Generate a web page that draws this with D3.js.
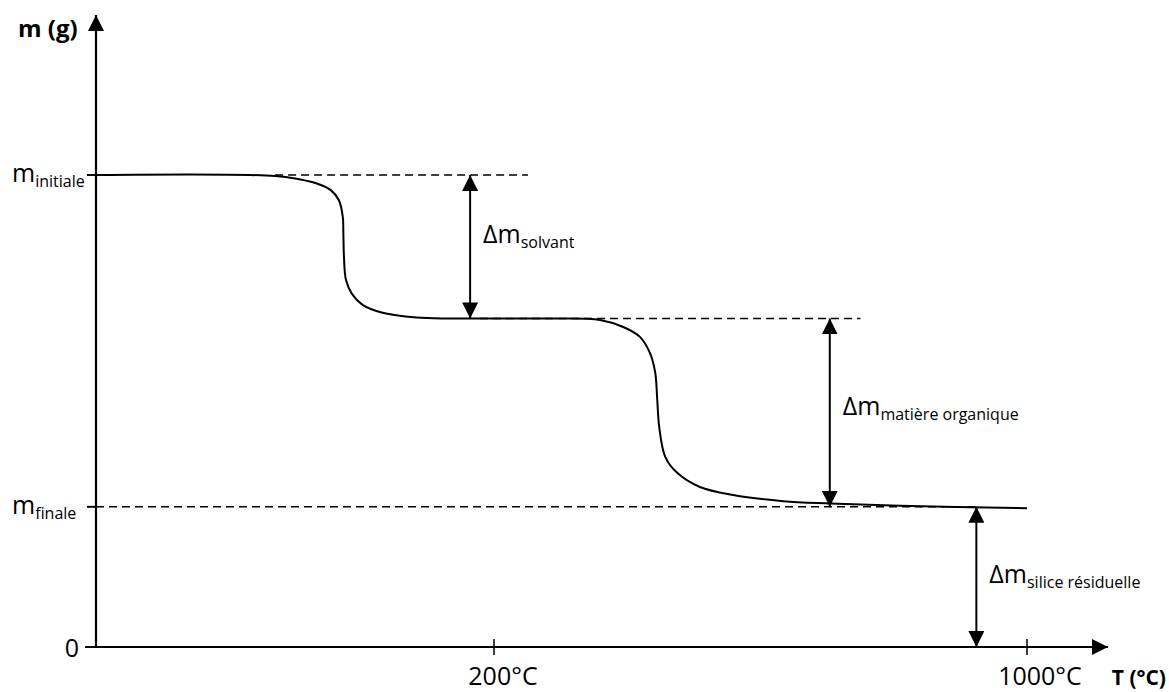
<!DOCTYPE html>
<html>
<head>
<meta charset="utf-8">
<script src="https://cdn.jsdelivr.net/npm/d3@7"></script>
<style>
  body { margin: 0; background: #fff; }
  svg { display: block; font-family: "Open Sans", "DejaVu Sans", sans-serif; }
</style>
</head>
<body>
<div id="chart"></div>
<script>
// 1. DATA (schematic thermogram)
const tempBreaks = [0, 200, 1000]          // °C, axis is broken after 200°C
const xTicks = [200, 1000]
const xTickLabels = ["200°C", "1000°C"]

const mInitiale = 100
const mPlateau = 69.6
const mFinale = 29.7

// curve: temperature (°C) and mass (arbitrary)
const curveT = [0, 90, 102, 111, 118, 122, 124, 124.3, 124.6, 125.6, 128.5, 134, 144, 161, 178, 230, 284,
    359, 394, 419, 434, 442, 445, 448, 457, 475, 509, 559, 634, 704, 809, 1000]
const curveM = [100, 99.8, 99.1, 98.2, 96.8, 94.7, 91.2, 87.7, 82.7, 77.8, 74.9, 72.5, 70.8, 69.8, 69.6, 69.6, 69.6,
    69.3, 67.8, 65.7, 62.3, 58.1, 52.4, 46.6, 40.3, 36.9, 33.9, 32.2, 30.9, 30.4, 29.9, 29.4]

const yTicks = [0, mFinale, mInitiale]
const yTickLabels = [["0", ""], ["m", "finale"], ["m", "initiale"]]

const guides = [
    { m: mInitiale, from: 90, to: 251 },
    { m: mPlateau, from: 193, to: 750 },
    { m: mFinale, from: 0, to: 922 },
]

const deltas = [
    { t: 188, top: mInitiale, bottom: mPlateau, sub: "solvant", dy: -4 },
    { t: 704, top: mPlateau, bottom: mFinale, sub: "matière organique", dy: 2 },
    { t: 924, top: mFinale, bottom: 0, sub: "silice résiduelle", dy: 6 },
]

// 2. DIMENSIONS
const dimensions = {
    width: 1169,
    height: 692,
    margin: { top: 175, left: 96, bottom: 45 },
}

// 3. CANVAS
const svg = d3.select("#chart")
    .append("svg")
    .attr("width", dimensions.width)
    .attr("height", dimensions.height)

const defs = svg.append("defs")
defs.append("marker")
    .attr("id", "head")
    .attr("viewBox", "0 0 16 16")
    .attr("refX", 16)
    .attr("refY", 8)
    .attr("markerWidth", 16)
    .attr("markerHeight", 16)
    .attr("markerUnits", "userSpaceOnUse")
    .attr("orient", "auto-start-reverse")
    .append("path")
    .attr("d", "M0,0 L16,8 L0,16 Z")
    .attr("fill", "#000")

// 4. SCALES
const xScale = d3.scaleLinear()
    .domain(tempBreaks)
    .range([dimensions.margin.left, 494, 1027])

const yScale = d3.scaleLinear()
    .domain([0, mInitiale])
    .range([dimensions.height - dimensions.margin.bottom, dimensions.margin.top])

// 5. GUIDES AND CURVE
svg.append("g")
    .selectAll("line")
    .data(guides)
    .join("line")
    .attr("x1", d => xScale(d.from))
    .attr("x2", d => xScale(d.to))
    .attr("y1", d => yScale(d.m))
    .attr("y2", d => yScale(d.m))
    .attr("stroke", "#000")
    .attr("stroke-width", 1.6)
    .attr("stroke-dasharray", "8 5")

const curveData = curveT.map((t, i) => [t, curveM[i]])
const lineGen = d3.line()
    .x(d => xScale(d[0]))
    .y(d => yScale(d[1]))
    .curve(d3.curveCatmullRom.alpha(0.5))

svg.append("path")
    .datum(curveData)
    .attr("d", lineGen)
    .attr("fill", "none")
    .attr("stroke", "#000")
    .attr("stroke-width", 2)

// 6. AXES
const x0 = xScale(0)
const y0 = yScale(0)

svg.append("line")
    .attr("x1", x0).attr("y1", y0 + 1)
    .attr("x2", x0).attr("y2", 15)
    .attr("stroke", "#000").attr("stroke-width", 2.2)
    .attr("marker-end", "url(#head)")

svg.append("line")
    .attr("x1", x0 - 11).attr("y1", y0)
    .attr("x2", 1108).attr("y2", y0)
    .attr("stroke", "#000").attr("stroke-width", 2.2)
    .attr("marker-end", "url(#head)")

// y ticks
const yTickG = svg.append("g")
    .selectAll("g")
    .data(yTicks)
    .join("g")
    .attr("transform", d => `translate(0,${yScale(d)})`)

yTickG.filter(d => d !== 0)
    .append("line")
    .attr("x1", x0 - 9).attr("x2", x0)
    .attr("stroke", "#000").attr("stroke-width", 2)

const yLabels = yTickG.append("text")
    .attr("x", (d, i) => i === 0 ? 79 : 12)
    .attr("y", (d, i) => i === 0 ? 10 : 7)
    .attr("text-anchor", (d, i) => i === 0 ? "end" : "start")
    .style("font-size", "25px")
yLabels.append("tspan")
    .text((d, i) => yTickLabels[i][0])
yLabels.append("tspan")
    .attr("dy", 5)
    .style("font-size", "16px")
    .text((d, i) => yTickLabels[i][1])

// x ticks
const xTickG = svg.append("g")
    .selectAll("g")
    .data(xTicks)
    .join("g")
    .attr("transform", d => `translate(${xScale(d)},${y0})`)

xTickG.append("line")
    .attr("y1", -8).attr("y2", 8)
    .attr("stroke", "#000").attr("stroke-width", 1.5)

xTickG.append("text")
    .attr("x", (d, i) => i === 0 ? 9 : 13)
    .attr("y", 38)
    .attr("text-anchor", "middle")
    .style("font-size", "25px")
    .text((d, i) => xTickLabels[i])

// axis titles
svg.append("text")
    .attr("x", 18).attr("y", 37)
    .style("font-size", "24px")
    .style("font-weight", "bold")
    .text("m (g)")

svg.append("text")
    .attr("x", 1166).attr("y", 685)
    .attr("text-anchor", "end")
    .style("font-size", "21px")
    .style("font-weight", "bold")
    .text("T (°C)")

// 7. DELTA ARROWS
const deltaG = svg.append("g")
    .selectAll("g")
    .data(deltas)
    .join("g")

deltaG.append("line")
    .attr("x1", d => xScale(d.t))
    .attr("x2", d => xScale(d.t))
    .attr("y1", d => yScale(d.top))
    .attr("y2", d => yScale(d.bottom))
    .attr("stroke", "#000")
    .attr("stroke-width", 2)
    .attr("marker-start", "url(#head)")
    .attr("marker-end", "url(#head)")

const deltaText = deltaG.append("text")
    .attr("x", d => xScale(d.t) + 13)
    .attr("y", d => (yScale(d.top) + yScale(d.bottom)) / 2 + d.dy)
    .style("font-size", "25px")
deltaText.append("tspan").text("Δm")
deltaText.append("tspan")
    .attr("dy", 5)
    .style("font-size", "16px")
    .text(d => d.sub)
</script>
</body>
</html>
